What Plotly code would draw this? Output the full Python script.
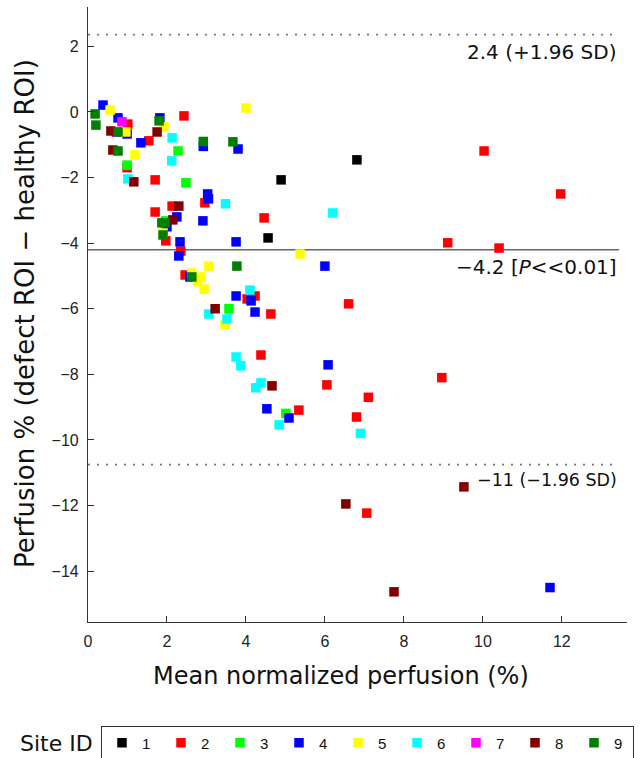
import plotly.graph_objects as go

site_ids = ["1", "2", "3", "4", "5", "6", "7", "8", "9"]
site_colors = ["#000000", "#ff0000", "#00ff00", "#0000ff", "#ffff00",
               "#00ffff", "#ff00ff", "#800000", "#008000"]

s1_x = [6.81, 4.89, 4.56]
s1_y = [-1.46, -2.07, -3.84]
s2_x = [2.43, 1.01, 1.54, 1.70, 0.99, 2.13, 2.96, 1.70, 1.97, 2.35, 2.46, 4.23, 4.03, 4.63,
        4.38, 5.34, 6.05, 4.46, 10.03, 11.97, 9.11, 10.41, 6.60, 6.80, 7.10, 8.96, 7.06]
s2_y = [-0.12, -0.37, -0.88, -2.07, -1.70, -2.87, -2.77, -3.05, -3.93, -4.24, -4.97, -5.61,
        -5.70, -6.16, -7.41, -9.09, -8.32, -3.23, -1.19, -2.50, -3.99, -4.15, -5.85, -9.30,
        -8.70, -8.10, -12.23]
s3_x = [0.99, 2.28, 2.48, 1.97, 3.57, 5.01]
s3_y = [-1.62, -1.19, -2.16, -3.32, -6.00, -9.19]
s4_x = [0.38, 0.76, 0.99, 1.34, 1.82, 3.03, 3.05, 2.25, 2.00, 2.91, 2.33, 3.75, 2.30, 2.58,
        3.75, 6.00, 4.13, 4.23, 4.53, 5.09, 3.80, 2.92, 11.70, 6.08]
s4_y = [0.21, -0.18, -0.67, -0.94, -0.18, -2.50, -2.65, -3.20, -3.50, -3.32, -3.96, -3.96,
        -4.39, -5.03, -5.61, -4.70, -5.76, -6.10, -9.05, -9.33, -1.13, -1.05, -14.50, -7.71]
s5_x = [0.56, 0.96, 1.92, 1.19, 1.90, 3.06, 2.63, 2.86, 2.78, 2.94, 5.37, 3.47, 4.00]
s5_y = [0.06, -0.61, -0.45, -1.31, -3.69, -4.70, -4.91, -5.03, -5.18, -5.40, -4.33, -6.49, 0.12]
s6_x = [2.13, 2.12, 1.01, 3.48, 4.10, 3.06, 3.52, 3.75, 3.87, 4.38, 4.25, 4.84, 6.20, 6.90]
s6_y = [-0.79, -1.49, -2.04, -2.80, -5.43, -6.16, -6.31, -7.47, -7.74, -8.26, -8.41, -9.54,
        -3.08, -9.80]
s7_x = [0.72, 0.86]
s7_y = [-0.62, -0.30]
s8_x = [0.58, 1.75, 0.63, 1.16, 2.30, 2.15, 3.22, 4.66, 9.52, 6.53, 7.75]
s8_y = [-0.58, -0.61, -1.16, -2.13, -2.87, -3.29, -6.00, -8.35, -11.43, -11.95, -14.63]
s9_x = [0.18, 0.20, 0.76, 0.76, 1.80, 1.87, 1.95, 1.90, 3.77, 2.63, 3.67, 2.92]
s9_y = [-0.06, -0.40, -0.61, -1.19, -0.27, -3.38, -3.38, -3.75, -4.70, -5.03, -0.91, -0.90]

series_x = [s1_x, s2_x, s3_x, s4_x, s5_x, s6_x, s7_x, s8_x, s9_x]
series_y = [s1_y, s2_y, s3_y, s4_y, s5_y, s6_y, s7_y, s8_y, s9_y]

mean_diff = -4.2
upper_loa = 2.36
lower_loa = -10.75
line_x_end = 13.45
upper_label = "2.4 (+1.96 SD)"
mean_label = "−4.2 [<i>P</i><<0.01]"
lower_label = "−11 (−1.96 SD)"

x_ticks = [0, 2, 4, 6, 8, 10, 12]
y_ticks = [2, 0, -2, -4, -6, -8, -10, -12, -14]

W, H = 644, 758
PL, PR, PT, PB = 88, 627, 7, 622  # plot area edges in px

fig = go.Figure()
for sid, col, xs, ys in zip(site_ids, site_colors, series_x, series_y):
    fig.add_trace(go.Scatter(
        x=xs, y=ys, mode="markers", name=sid,
        marker=dict(symbol="square", size=9.5, color=col, line=dict(width=0)),
    ))

for val in (upper_loa, lower_loa):
    fig.add_shape(type="line", xref="x", yref="y", x0=0, x1=line_x_end, y0=val, y1=val,
                  line=dict(color="#777777", width=1.8, dash="2px,7px"), layer="below")
fig.add_shape(type="line", xref="x", yref="y", x0=0, x1=line_x_end, y0=mean_diff, y1=mean_diff,
              line=dict(color="#666666", width=1.6), layer="below")

for val, txt, fs in [(upper_loa, upper_label, 20), (mean_diff, mean_label, 20),
                     (lower_loa, lower_label, 17.5)]:
    fig.add_annotation(x=line_x_end, y=val, xref="x", yref="y", text=txt, showarrow=False,
                       xanchor="right", yanchor="top", yshift=-3,
                       font=dict(family="DejaVu Sans", size=fs, color="#111111"))

fig.add_annotation(xref="paper", yref="paper", x=25 / W, y=(H - 314) / H,
                   xanchor="center", yanchor="middle", textangle=-90, showarrow=False,
                   text="Perfusion % (defect ROI − healthy ROI)",
                   font=dict(family="DejaVu Sans", size=26, color="#111111"))
fig.add_annotation(xref="paper", yref="paper", x=341 / W, y=(H - 676) / H,
                   xanchor="center", yanchor="middle", showarrow=False,
                   text="Mean normalized perfusion (%)",
                   font=dict(family="DejaVu Sans", size=24, color="#111111"))
fig.add_annotation(xref="paper", yref="paper", x=56 / W, y=(H - 743) / H,
                   xanchor="center", yanchor="middle", showarrow=False, text="Site ID",
                   font=dict(family="DejaVu Sans", size=22, color="#111111"))

axis_common = dict(showgrid=False, zeroline=False, showline=True, linecolor="#333333", linewidth=1.2,
                   ticks="inside", ticklen=6, tickcolor="#333333", ticklabelstandoff=5,
                   tickfont=dict(family="Liberation Sans, Arial, sans-serif", size=16, color="#222222"))

fig.update_layout(
    width=W, height=H,
    margin=dict(l=0, r=0, t=0, b=0, autoexpand=False),
    paper_bgcolor="white", plot_bgcolor="white",
    showlegend=True,
    legend=dict(orientation="h", x=101 / W, y=(H - 743) / H, xanchor="left", yanchor="middle",
                bordercolor="#333333", borderwidth=1, bgcolor="white",
                entrywidth=14, entrywidthmode="pixels", itemwidth=30,
                font=dict(family="Liberation Sans Narrow, Arial Narrow, sans-serif", size=15,
                          color="#111111"),
                tracegroupgap=0),
    xaxis=dict(domain=[PL / W, PR / W], range=[0, 13.65], tickvals=x_ticks, **axis_common),
    yaxis=dict(domain=[(H - PB) / H, (H - PT) / H], range=[-15.55, 3.2], tickvals=y_ticks,
               **axis_common),
)

fig.write_html("out.html", config={"displayModeBar": False},
               post_script="document.body.style.margin='0';document.body.style.overflow='hidden';")
